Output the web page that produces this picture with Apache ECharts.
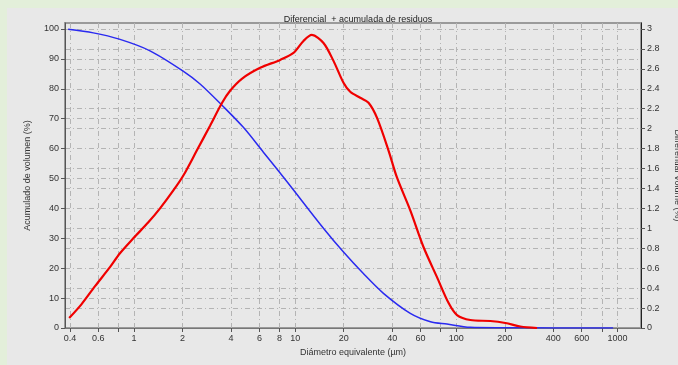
<!DOCTYPE html>
<html>
<head>
<meta charset="utf-8">
<script src="https://cdn.jsdelivr.net/npm/echarts@6/dist/echarts.min.js"></script>
<style>html,body{margin:0;padding:0;}#c{width:678px;height:365px;}</style>
</head>
<body>
<div id="c"></div>
<script>
// Differential volume (red, right axis)
const diffDiameters = [0.396,0.473,0.573,0.709,0.818,0.99,1.227,1.45,1.754,2.024,2.452,2.965,3.521,3.947,4.668,6.061,8.068,9.759,11.26,12.7,14.99,17.29,19.95,21.96,25.33,28.53,32.17,37.97,42.82,51.81,62.66,75.88,89.59,101,122.2,162.6,201.5,249.7,317.1];
const diffValues    = [0.10,0.24,0.42,0.61,0.75,0.90,1.06,1.20,1.38,1.53,1.78,2.03,2.26,2.38,2.50,2.61,2.69,2.76,2.88,2.94,2.86,2.68,2.46,2.37,2.31,2.26,2.11,1.78,1.51,1.18,0.81,0.51,0.25,0.13,0.08,0.07,0.05,0.015,0];

// Cumulative residue (blue, left axis)
const cumDiameters = [0.39,0.559,0.81,1.257,2.007,2.57,3.59,4.77,6.35,8.88,15.06,19.95,26.5,35.3,51.8,69.1,87.5,122,200,400,940];
const cumValues    = [99.9,98.7,96.6,92.7,86.0,81.6,74.0,67.1,58.8,49.0,33.2,25.4,18.2,11.6,4.9,2.1,1.3,0.23,0.1,0.03,0];

// Axis ticks / labels
const xGridValues  = [0.4,0.6,0.8,1,2,4,6,8,10,20,40,60,80,100,200,400,600,800,1000];
const xLabelValues = [0.4,0.6,1,2,4,6,8,10,20,40,60,100,200,400,600,1000];
const leftTicks  = [0,10,20,30,40,50,60,70,80,90,100];
const rightTicks = [0,0.2,0.4,0.6,0.8,1,1.2,1.4,1.6,1.8,2,2.2,2.4,2.6,2.8,3];

const chart = echarts.init(document.getElementById('c'), null, {renderer:'canvas'});
const font = 'Liberation Sans, Arial, sans-serif';
const gridLine = {show:true, lineStyle:{color:'#b4b4b4', width:1, type:[5,3,1,3]}};
const axisTxt = {color:'#333', fontSize:9, fontFamily:font};

chart.setOption({
  backgroundColor:'#e3efda',
  animation:false,
  graphic:[{type:'rect', left:7, top:8, shape:{width:671, height:357}, style:{fill:'#e8e8e8'}, z:-10}],
  title:{text:'Diferencial  + acumulada de residuos', left:353, top:10, textAlign:'center',
    textStyle:{fontSize:9, fontWeight:'normal', color:'#222', fontFamily:font}},
  grid:{left:65, right:37, top:23, bottom:37, containLabel:false, outerBoundsMode:'none',
    show:true, backgroundColor:'#e8e8e8', borderColor:'#9a9a9a', borderWidth:2},
  xAxis:{type:'log', logBase:10, min:0.373, max:1400,
    name:'Diámetro equivalente (µm)', nameLocation:'middle', nameGap:19,
    nameTextStyle:{color:'#333', fontSize:9, fontFamily:font},
    axisLine:{show:true, lineStyle:{color:'#777', width:1}},
    axisTick:{show:true, length:4, customValues:xGridValues, lineStyle:{color:'#555'}},
    axisLabel:Object.assign({customValues:xLabelValues, margin:6, formatter:v=>String(+(+v).toPrecision(6))}, axisTxt),
    splitLine:gridLine, minorTick:{show:false}},
  yAxis:[
    {type:'value', min:0, max:102, position:'left',
      name:'Acumulado de volumen (%)', nameLocation:'middle', nameGap:33,
      nameTextStyle:{color:'#333', fontSize:9, fontFamily:font},
      axisLine:{show:true, lineStyle:{color:'#555'}},
      axisTick:{show:true, length:4, customValues:leftTicks, lineStyle:{color:'#555'}},
      axisLabel:Object.assign({customValues:leftTicks, margin:6}, axisTxt),
      splitLine:gridLine},
    {type:'value', min:0, max:3.06, position:'right',
      name:'Differential Volume (%)', nameLocation:'middle', nameGap:32, nameRotate:-90,
      nameTextStyle:{color:'#333', fontSize:9, fontFamily:font},
      axisLine:{show:true, lineStyle:{color:'#222'}},
      axisTick:{show:true, length:4, customValues:rightTicks, lineStyle:{color:'#555'}},
      axisLabel:Object.assign({customValues:rightTicks, margin:6, formatter:v=>String(+(+v).toFixed(1))}, axisTxt),
      splitLine:gridLine}
  ],
  series:[
    {type:'line', name:'Acumulado', yAxisIndex:0, showSymbol:false, smooth:0.3,
      data:cumDiameters.map((d,i)=>[d,cumValues[i]]),
      lineStyle:{color:'#2a2af0', width:1.5}, z:3},
    {type:'line', name:'Diferencial', yAxisIndex:1, showSymbol:false, smooth:0.3,
      data:diffDiameters.map((d,i)=>[d,diffValues[i]]),
      lineStyle:{color:'#f00000', width:2.2}, z:4}
  ]
});
</script>
</body>
</html>
